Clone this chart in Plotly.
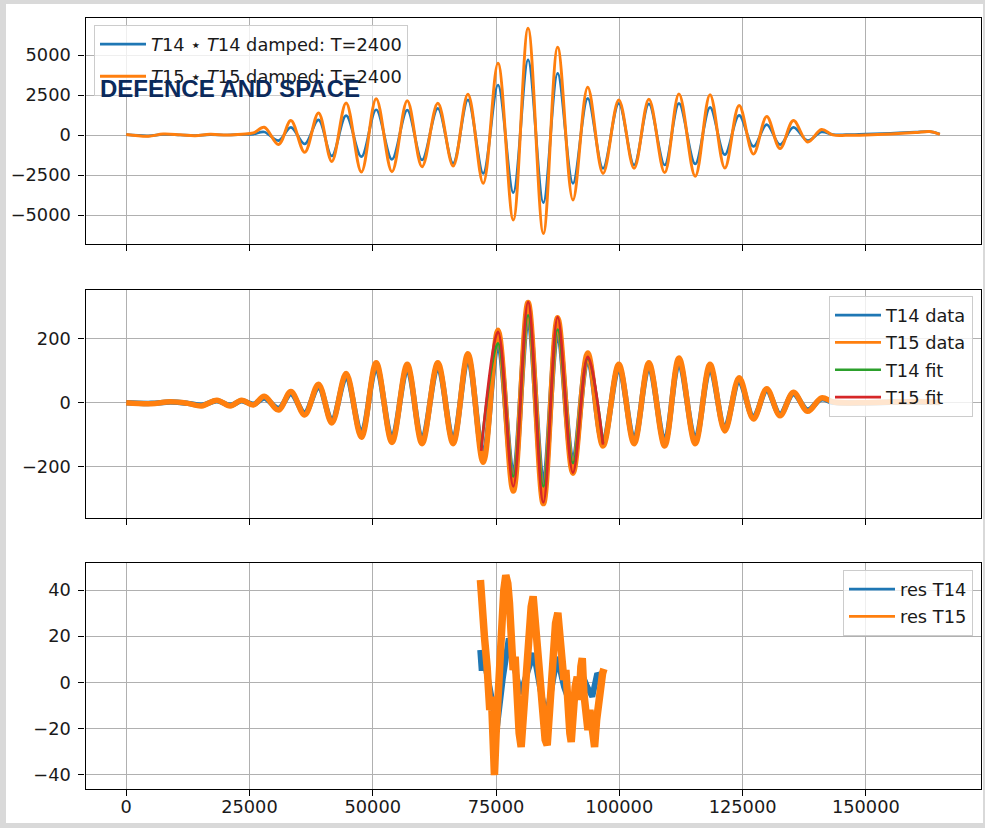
import plotly.graph_objects as go

W, H = 985, 828

# ---------------- top panel: damped products (extrema of each swing) ----------------
prod_x = [0, 4500, 7500, 11000, 14000, 17000, 20500, 23500, 25800,
          28000, 30900, 33400, 36200, 39000, 41700, 44600, 47700, 50700, 53900,
          57000, 60000, 63200, 66300, 69300, 72400, 75400, 78500, 81500, 84600,
          87500, 90600, 93600, 96700, 99900, 103000, 106000, 109200, 112100, 115400,
          118400, 121400, 124300, 127200, 129900, 132600, 135300, 138200, 141000,
          143300, 146000, 150000, 155000, 160000, 163000, 165000]
t14_prod = [20, -50, 40, 0, -30, 20, 0, 30, 60,
            190, -350, 480, -560, 940, -1310, 1210, -1350, 1580, -1520,
            1560, -1560, 1670, -1770, 2190, -2400, 3125, -3600, 4690, -4230,
            3850, -3020, 2290, -2080, 1980, -1875, 1940, -1875, 1980, -1810,
            1730, -1230, 1230, -710, 650, -600, 480, -350, 190,
            30, 20, 60, 110, 180, 210, 60]
t15_prod = [30, -80, 60, 10, -40, 40, 0, 50, 130,
            480, -600, 900, -1080, 1375, -1650, 2000, -2310, 2270, -2290,
            2140, -1980, 1980, -1940, 2540, -3020, 4480, -5310, 6670, -6150,
            5480, -4060, 2980, -2400, 2190, -2080, 2230, -2350, 2560, -2580,
            2520, -2060, 1850, -1190, 1150, -850, 900, -440, 340,
            10, -20, 0, 60, 150, 220, 40]

# ---------------- middle panel: measured signals and fits ----------------
data_x = [0, 5000, 9000, 12500, 15300, 18400, 21100, 23400, 25800,
          28000, 30900, 33400, 36200, 39000, 41700, 44600, 47700, 50700, 53900,
          57000, 60000, 63200, 66300, 69300, 72400, 75400, 78500, 81500, 84600,
          87500, 90600, 93600, 96700, 99900, 103000, 106000, 109200, 112100, 115400,
          118400, 121400, 124300, 127200, 129900, 132600, 135300, 138200, 141000,
          143500, 150000, 160000, 165000]
t14_data = [0, -2, 2, -2, -8, 6, -8, 6, -5,
            15, -18, 28, -32, 50, -55, 80, -96, 112, -112,
            108, -116, 114, -117, 140, -165, 192, -238, 276, -266,
            231, -192, 141, -125, 110, -117, 114, -122, 127, -116,
            108, -78, 68, -45, 38, -36, 28, -23, 12,
            1, 0, 3, 1]
t15_data = [0, -3, 3, -2, -10, 8, -10, 8, -7,
            20, -23, 35, -38, 58, -63, 91, -108, 125, -124,
            120, -128, 125, -128, 153, -186, 226, -276, 313, -315,
            265, -220, 155, -135, 120, -128, 125, -135, 140, -128,
            120, -88, 78, -51, 44, -41, 33, -27, 15,
            2, 0, 4, 2]

fit_x = [72000, 75400, 78500, 81500, 84600, 87500, 90600, 93600, 96700]
t14_fit = [-140, 185, -230, 273, -261, 228, -188, 138, -126]
t15_fit = [-150, 221, -261, 314, -311, 267, -218, 143, -131]

# ---------------- bottom panel: fit residuals ----------------
res14_x = [71800, 72100, 72400, 73300, 74300, 75220, 76400, 77590, 78800, 79960,
           81300, 82670, 84000, 85240, 86300, 87410, 88800, 90250, 91400, 92490,
           93500, 94520, 95530, 96340]
res14 = [14, 5, 12, 3, -10, -19, 2, 19, 6, -5,
         4, 12.6, -3, -16, -2, 11, -2, -10.6, -3, 3.2,
         -2, -6.2, 3.9, 1.7]
res15_x = [71840, 72110, 72310, 72650, 73190, 73730, 74070, 74410, 74680, 75020,
           75360, 75760, 76170, 76580, 76980, 77390, 77730, 78070, 78470, 78880,
           79280, 79690, 80100, 80500, 80910, 81310, 81720, 82130, 82530, 82940,
           83350, 83750, 84160, 84560, 84970, 85380, 85780, 86190, 86590, 87070,
           87540, 87950, 88360, 88760, 89170, 89570, 89980, 90250, 90660, 91060,
           91470, 91880, 92210, 92490, 92820, 93230, 93640, 94040, 94520, 94990,
           95400, 95800, 96210, 96610, 96880]
res15 = [44.4, 31.4, 40.0, 19.8, 6.8, -12.0, -6.2, -27.9, -40.3, -22.1,
         -7.7, 9.7, 29.9, 40.0, 46.5, 42.9, 34.3, 21.3, 5.3, 11.1,
         -9.1, -22.1, -28.1, -14.9, -7.7, 9.7, 24.1, 32.8, 37.3, 27.0,
         15.4, 8.2, -7.7, -14.9, -25.0, -27.3, -12.0, 3.9, 16.9, 25.6,
         30.1, 19.8, 9.7, 1.0, 5.3, -13.4, -22.1, -25.9, -10.6, -1.9,
         2.4, -7.7, 6.8, 10.5, -4.8, -14.9, -20.7, -12.0, -25.0, -28.1,
         -16.4, -7.7, -1.9, 3.9, 5.8]

# ---------------- ticks ----------------
x_ticks = [0, 25000, 50000, 75000, 100000, 125000, 150000]
x_labels = ["0", "25000", "50000", "75000", "100000", "125000", "150000"]
y1_ticks = [-5000, -2500, 0, 2500, 5000]
y1_labels = ["\u22125000", "\u22122500", "0", "2500", "5000"]
y2_ticks = [-200, 0, 200]
y2_labels = ["\u2212200", "0", "200"]
y3_ticks = [-40, -20, 0, 20, 40]
y3_labels = ["\u221240", "\u221220", "0", "20", "40"]

BLUE, ORANGE, GREEN, RED = "#1f77b4", "#ff7f0e", "#2ca02c", "#d62728"
FONT = "DejaVu Sans"
FS = 17.8
LW = 2.7

fig = go.Figure()

# top panel
fig.add_trace(go.Scatter(x=prod_x, y=t14_prod, mode="lines",
                         line=dict(color=BLUE, width=LW, shape="spline"),
                         name="<i>T</i>14 \u22c6 <i>T</i>14 damped: T=2400",
                         legend="legend", legendgroup="p14",
                         xaxis="x", yaxis="y"))
fig.add_trace(go.Scatter(x=prod_x, y=t15_prod, mode="lines",
                         line=dict(color=ORANGE, width=3.0, shape="spline"),
                         name="<i>T</i>15 \u22c6 <i>T</i>15 damped: T=2400",
                         legend="legend", legendgroup="p15",
                         xaxis="x", yaxis="y"))

# middle panel
fig.add_trace(go.Scatter(x=data_x, y=t14_data, mode="lines",
                         line=dict(color=BLUE, width=5.5, shape="spline"),
                         showlegend=False, xaxis="x2", yaxis="y2"))
fig.add_trace(go.Scatter(x=data_x, y=t15_data, mode="lines",
                         line=dict(color=ORANGE, width=5.5, shape="spline"),
                         showlegend=False, xaxis="x2", yaxis="y2"))
fig.add_trace(go.Scatter(x=fit_x, y=t14_fit, mode="lines",
                         line=dict(color=GREEN, width=LW, shape="spline"),
                         showlegend=False, xaxis="x2", yaxis="y2"))
fig.add_trace(go.Scatter(x=fit_x, y=t15_fit, mode="lines",
                         line=dict(color=RED, width=LW, shape="spline"),
                         showlegend=False, xaxis="x2", yaxis="y2"))
for nm, col in [("T14 data", BLUE), ("T15 data", ORANGE),
                ("T14 fit", GREEN), ("T15 fit", RED)]:
    fig.add_trace(go.Scatter(x=[None], y=[None], mode="lines",
                             line=dict(color=col, width=LW), name=nm,
                             legend="legend2", legendgroup=nm,
                             xaxis="x2", yaxis="y2"))

# bottom panel
fig.add_trace(go.Scatter(x=res14_x, y=res14, mode="lines",
                         line=dict(color=BLUE, width=6),
                         showlegend=False, xaxis="x3", yaxis="y3"))
fig.add_trace(go.Scatter(x=res15_x, y=res15, mode="lines",
                         line=dict(color=ORANGE, width=7.5),
                         showlegend=False, xaxis="x3", yaxis="y3"))
for nm, col in [("res T14", BLUE), ("res T15", ORANGE)]:
    fig.add_trace(go.Scatter(x=[None], y=[None], mode="lines",
                             line=dict(color=col, width=LW), name=nm,
                             legend="legend3", legendgroup=nm,
                             xaxis="x3", yaxis="y3"))

x_dom = [85.5 / W, 980.5 / W]
common = dict(showgrid=True, gridcolor="#b0b0b0", gridwidth=1.3, zeroline=False,
              showline=True, linecolor="black", linewidth=1.3, mirror=True,
              ticks="outside", ticklen=6, tickwidth=1.3, tickcolor="black",
              tickfont=dict(family=FONT, size=FS, color="#1a1a1a"),
              automargin=False)

def xax(anchor, labels):
    d = dict(common, domain=x_dom, range=[-8250, 173250], anchor=anchor,
             tickmode="array", tickvals=x_ticks, showticklabels=labels)
    if labels:
        d["ticktext"] = x_labels
        d["ticklabelstandoff"] = -5
    return d

def yax(anchor, top, bottom, rng, vals, labels):
    return dict(common, domain=[1 - bottom / H, 1 - top / H], range=rng,
                anchor=anchor, tickmode="array", tickvals=vals, ticktext=labels,
                ticklabelstandoff=4)

leg_common = dict(bgcolor="rgba(255,255,255,0.8)", bordercolor="#cccccc",
                  borderwidth=1, itemwidth=46,
                  font=dict(family=FONT, size=FS, color="#1a1a1a"))

fig.update_layout(
    width=W, height=H, template="none",
    margin=dict(l=0, r=0, t=0, b=0, pad=0),
    paper_bgcolor="#d9d9d9", plot_bgcolor="white",
    font=dict(family=FONT, size=FS, color="#1a1a1a"),
    xaxis=xax("y", False),
    xaxis2=dict(xax("y2", False), matches="x"),
    xaxis3=dict(xax("y3", True), matches="x"),
    yaxis=yax("x", 18.3, 244, [-6812, 7294], y1_ticks, y1_labels),
    yaxis2=yax("x2", 290.3, 517.7, [-359, 351], y2_ticks, y2_labels),
    yaxis3=yax("x3", 562.7, 789, [-46.3, 51.9], y3_ticks, y3_labels),
    legend=dict(leg_common, x=94 / W, y=1 - 25 / H, xanchor="left", yanchor="top",
                tracegroupgap=6),
    legend2=dict(leg_common, x=973 / W, y=1 - 296 / H, xanchor="right", yanchor="top",
                 tracegroupgap=1.2),
    legend3=dict(leg_common, x=973 / W, y=1 - 570 / H, xanchor="right", yanchor="top",
                 tracegroupgap=1.2),
    shapes=[dict(type="rect", xref="paper", yref="paper", layer="below",
                 x0=6 / W, x1=983 / W, y0=1 - 823 / H, y1=1 - 4 / H,
                 fillcolor="white", line=dict(width=0))],
    annotations=[dict(text="<b>DEFENCE AND SPACE</b>", xref="paper", yref="paper",
                      x=98 / W, y=1 - 88 / H, xanchor="left", yanchor="middle",
                      showarrow=False,
                      font=dict(family="Liberation Sans", size=24, color="#0b2a5c"))],
)

fig.write_html("out.html")
